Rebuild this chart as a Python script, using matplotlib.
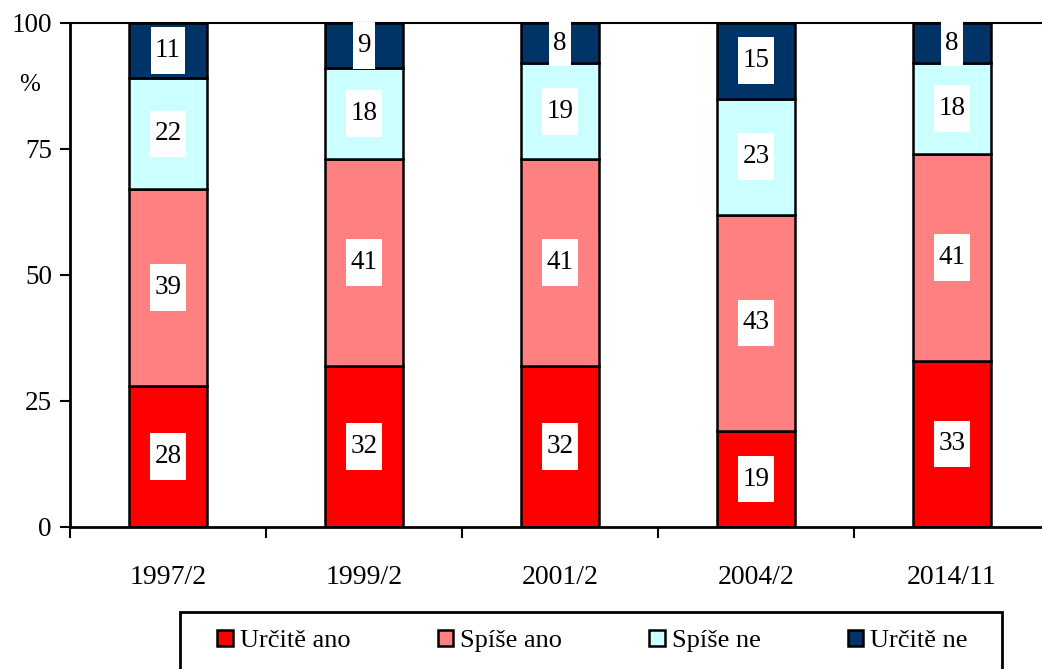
import matplotlib
matplotlib.use('Agg')
import matplotlib.pyplot as plt
from matplotlib.path import Path
from matplotlib.patches import Patch, Rectangle
import numpy as np

plt.rcParams['font.family'] = ['Liberation Serif', 'DejaVu Serif']

years = ['1997/2', '1999/2', '2001/2', '2004/2', '2014/11']
urcite_ano = [28, 32, 32, 19, 33]
spise_ano = [39, 41, 41, 43, 41]
spise_ne = [22, 18, 19, 23, 18]
urcite_ne = [11, 9, 8, 15, 8]

series = [urcite_ano, spise_ano, spise_ne, urcite_ne]
names = ['Určitě ano', 'Spíše ano', 'Spíše ne', 'Určitě ne']
colors = ['#FF0000', '#FF8080', '#CCFFFF', '#003366']


def tall_box(x0, y0, width, height, mutation_size):
    # white label box, narrow at the sides, tall above and below
    px = 0.16 * mutation_size
    py = 0.40 * mutation_size
    return Path([(x0 - px, y0 - py), (x0 + width + px, y0 - py),
                 (x0 + width + px, y0 + height + py), (x0 - px, y0 + height + py),
                 (x0 - px, y0 - py)], closed=True)


fig = plt.figure(figsize=(10.42, 6.69), dpi=100)
ax = fig.add_axes([70 / 1042, 142 / 669, 980 / 1042, 504 / 669])

x = np.arange(len(years))
bottom = np.zeros(len(years))
for vals, name, col in zip(series, names, colors):
    ax.bar(x, vals, width=0.4, bottom=bottom, color=col, edgecolor='black',
           linewidth=1.8, label=name, zorder=2)
    for xi, b, v in zip(x, bottom, vals):
        ax.text(xi, b + v / 2, str(v), ha='center', va='center', fontsize=19.5,
                zorder=5, bbox=dict(boxstyle=tall_box, facecolor='white',
                                    edgecolor='none'))
    bottom += np.array(vals)

ax.set_xlim(-0.5, len(years) - 0.5)
ax.set_ylim(0, 100)
ax.set_yticks([0, 25, 50, 75, 100])
ax.tick_params(axis='y', labelsize=19.5, length=7, width=1.5, direction='out', pad=6)

ax.set_xticks(np.arange(len(years) + 1) - 0.5)
ax.set_xticklabels([])
ax.set_xticks(x, minor=True)
ax.set_xticklabels(years, minor=True)
ax.tick_params(axis='x', which='major', length=8, width=1.5, direction='out')
ax.tick_params(axis='x', which='minor', length=0, labelsize=20, pad=27)

for s in ['left', 'bottom']:
    ax.spines[s].set_linewidth(2)
ax.spines['top'].set_linewidth(1.5)
ax.spines['right'].set_visible(False)

ax.text(-0.041, 0.877, '%', transform=ax.transAxes, fontsize=18,
        ha='center', va='center')

handles = [Patch(facecolor=c, edgecolor='black', linewidth=1.8) for c in colors]
leg = fig.legend(handles, names, loc='center', ncol=4,
                 bbox_to_anchor=(0.5686, 1 - 641 / 669), fontsize=19,
                 frameon=False, handlelength=0.6, handleheight=0.6,
                 handletextpad=0.25, columnspacing=3.3, borderpad=0,
                 borderaxespad=0)

# legend frame (runs off the bottom edge like the original)
fig.patches.append(Rectangle((180 / 1042, -0.05), 822 / 1042, 0.05 + 1 - 612 / 669,
                             transform=fig.transFigure, facecolor='none',
                             edgecolor='black', linewidth=2))

fig.savefig('out.png', dpi=100)
